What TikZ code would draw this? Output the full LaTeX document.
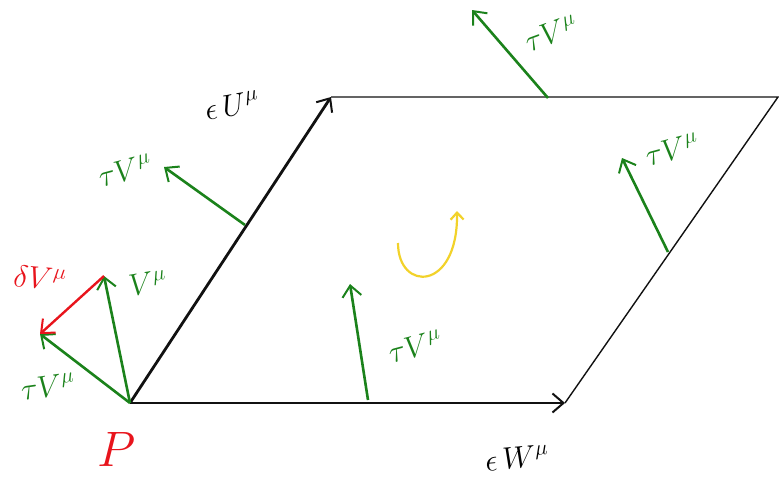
\documentclass[tikz,border=0pt]{standalone}
\usepackage{amsmath,amssymb}
\usepackage{tikz}
\usetikzlibrary{arrows.meta,positioning,calc}
\definecolor{ink}{HTML}{111111}
\definecolor{grn}{HTML}{1B821B}
\definecolor{dev}{HTML}{E8141C}
\definecolor{ylw}{HTML}{F2D22A}

\begin{document}
\begin{tikzpicture}[x=1pt,y=-1pt,font=\fontsize{24}{28}\selectfont,
  tip/.style={-{Straight Barb[length=11pt,width=19pt,line width=2pt]}},
  side/.style={ink,line width=2.8pt,tip},
  edge/.style={ink,line width=1.4pt},
  vecarr/.style={grn,line width=2.6pt,tip},
  lbl/.style={inner sep=0pt,scale=1.25}]
\useasboundingbox (0,0) rectangle (779,479);
\coordinate (P) at (130,403);
\coordinate (U) at (331,97);
\coordinate (W) at (565,403);
\coordinate (Q) at (778,97);
% parallelogram
\draw[edge] (U) -- (Q) -- (W);
\draw[side] (P) -- (U);
\draw[side] (P) -- (W);
\node[lbl,rotate=10] (eu) at (232,105) {$\epsilon\, U^\mu$};
\node[lbl,rotate=5] (ew) at (517,458) {$\epsilon\, W^\mu$};
\node[lbl,dev,scale=1.6] (p) at (117,449) {$P$};
% vectors at P
\coordinate (v) at (104,276);
\coordinate (tv) at (40,334);
\draw[vecarr] (P) -- (v);
\draw[vecarr] (P) -- (tv);
\draw[dev,line width=2.4pt,tip] (v) -- (tv);
\node[lbl,grn,rotate=10] (lv) at (148,283) {$V^\mu$};
\node[lbl,grn,rotate=8] (ltv) at (48,386) {$\tau V^\mu$};
\node[lbl,dev,rotate=-5] (ldv) at (40,278) {$\delta V^\mu$};
% transported vectors along the edges
\foreach \k/\bx/\by/\tx/\ty/\lx/\ly/\rot in {1/245/225/164/167/125/170/15,
    2/368/400/350/284/415/346/15,3/548/98/472/10/551/33/20,4/668/252/622/158/672/149/15}{
  \coordinate (b\k) at (\bx,\by);
  \coordinate (t\k) at (\tx,\ty);
  \draw[vecarr] (b\k) -- (t\k);
  \node[lbl,grn,rotate=\rot] (l\k) at (\lx,\ly) {$\tau V^\mu$};
}
% sense of circulation
\coordinate (c0) at (398,243);
\coordinate (c1) at (457,211);
\draw[ylw,line width=2.2pt,-{Straight Barb[length=7pt,width=13pt]}]
  (c0) .. controls (398,292) and (458,292) .. (c1);
\end{tikzpicture}
\end{document}
